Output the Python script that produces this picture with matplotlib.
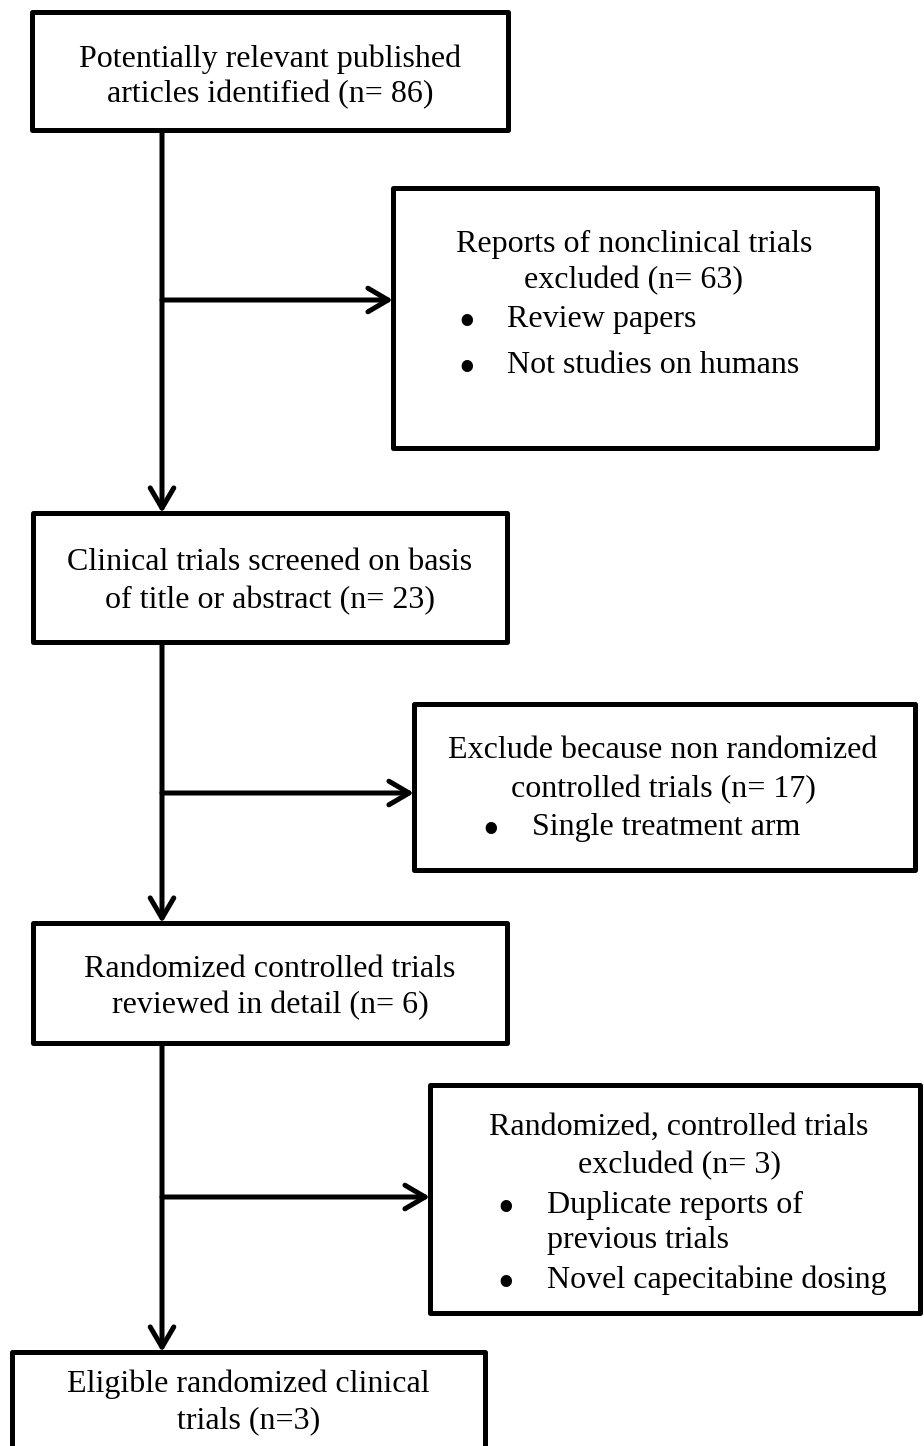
import matplotlib
matplotlib.use("Agg")
import matplotlib.pyplot as plt
from matplotlib.patches import Rectangle

# ---- content (data) ----
counts = [86, 63, 23, 17, 6, 3, 3]
main_lines = [
    ["Potentially relevant published", f"articles identified (n= {counts[0]})"],
    ["Clinical trials screened on basis", f"of title or abstract (n= {counts[2]})"],
    ["Randomized controlled trials", f"reviewed in detail (n= {counts[4]})"],
    ["Eligible randomized clinical", f"trials (n={counts[6]})"],
]
side_headers = [
    ["Reports of nonclinical trials", f"excluded (n= {counts[1]})"],
    ["Exclude because non randomized", f"controlled trials (n= {counts[3]})"],
    ["Randomized, controlled trials", f"excluded (n= {counts[5]})"],
]
side_bullets = [
    [["Review papers"], ["Not studies on humans"]],
    [["Single treatment arm"]],
    [["Duplicate reports of", "previous trials"], ["Novel capecitabine dosing"]],
]

# ---- layout (pixel coords, y downward) ----
W, H = 924, 1446
main_boxes = [(32, 12, 508, 130), (33, 513, 507, 642), (33, 923, 507, 1043), (12, 1352, 485, 1470)]
main_base = [[67, 102], [570, 608], [977, 1013], [1392, 1428]]
side_boxes = [(393, 188, 877, 448), (414, 704, 915, 870), (430, 1085, 920, 1313)]
side_head_base = [[252, 288], [758, 797], [1135, 1173]]
side_head_cx = [634, 663, 679]
side_bullet_base = [[[327], [373]], [[835]], [[1213, 1248], [1288]]]
bullet_x = [467, 491, 506]
btext_x = [507, 532, 547]
arrow_y = [300, 793, 1197]
spine_x = 162

LW = 3.6
FS = 23
FONT = "Liberation Serif"

fig = plt.figure(figsize=(W / 100, H / 100), dpi=100)
ax = fig.add_axes([0, 0, 1, 1])
ax.set_xlim(0, W)
ax.set_ylim(H, 0)
ax.axis("off")

def box(b):
    x0, y0, x1, y1 = b
    ax.add_patch(Rectangle((x0, y0), x1 - x0, y1 - y0, facecolor="white",
                           edgecolor="black", lw=LW, joinstyle="round", zorder=3))

def arrow(p0, p1):
    ax.annotate("", xy=p1, xytext=p0,
                arrowprops=dict(arrowstyle="->,head_length=1.45,head_width=0.85",
                                mutation_scale=10, lw=LW, color="black",
                                shrinkA=0, shrinkB=0, capstyle="round",
                                joinstyle="round"), zorder=2)

for b in main_boxes + side_boxes:
    box(b)

# main text
for b, lines, bases in zip(main_boxes, main_lines, main_base):
    cx = (b[0] + b[2]) / 2
    for t, yb in zip(lines, bases):
        ax.text(cx, yb, t, ha="center", va="baseline", fontsize=FS, family=FONT, zorder=4)

# side text
for i in range(3):
    for t, yb in zip(side_headers[i], side_head_base[i]):
        ax.text(side_head_cx[i], yb, t, ha="center", va="baseline", fontsize=FS,
                family=FONT, zorder=4)
    for blines, bbases in zip(side_bullets[i], side_bullet_base[i]):
        ax.text(bullet_x[i], bbases[0] + 9, "\u2022", ha="center", va="baseline",
                fontsize=FS * 1.5, family=FONT, zorder=4)
        for t, yb in zip(blines, bbases):
            ax.text(btext_x[i], yb, t, ha="left", va="baseline", fontsize=FS,
                    family=FONT, zorder=4)

# vertical spine arrows
for k in range(3):
    arrow((spine_x, main_boxes[k][3]), (spine_x, main_boxes[k + 1][1]))

# side arrows
for k in range(3):
    arrow((spine_x, arrow_y[k]), (side_boxes[k][0], arrow_y[k]))

fig.savefig("out.png", dpi=100, facecolor="white")
